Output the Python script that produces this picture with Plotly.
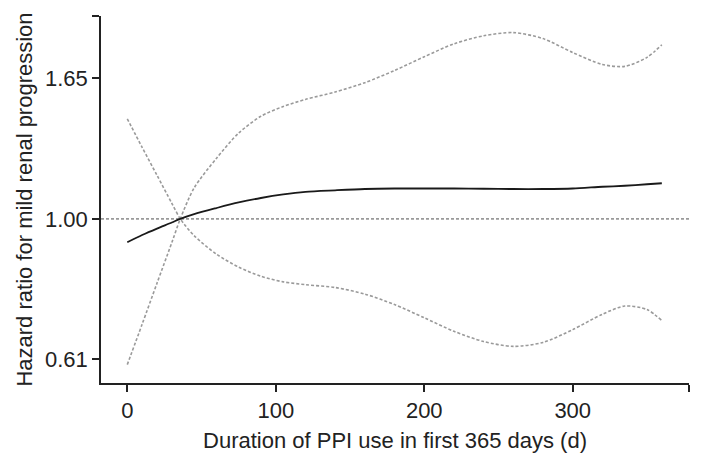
import math
import plotly.graph_objects as go

# Duration of PPI use (days)
days = [0, 10, 20, 30, 35.7, 45, 60, 75, 90, 105, 120, 140, 160, 180, 200,
        220, 240, 260, 280, 300, 320, 335, 350, 360]

# Hazard ratio estimate (solid line)
hr_est = [0.920, 0.944, 0.966, 0.987, 1.000, 1.017, 1.039, 1.060, 1.077, 1.091,
          1.101, 1.107, 1.112, 1.114, 1.114, 1.114, 1.113, 1.112, 1.112, 1.114,
          1.121, 1.125, 1.131, 1.135]

# Confidence band line starting low (upper band after reference point)
ci_a = [0.595, 0.687, 0.795, 0.919, 1.000, 1.116, 1.240, 1.357, 1.441, 1.492,
        1.530, 1.571, 1.624, 1.696, 1.781, 1.865, 1.919, 1.941, 1.900, 1.808,
        1.733, 1.721, 1.777, 1.859]

# Confidence band line starting high (lower band after reference point)
ci_b = [1.428, 1.290, 1.168, 1.057, 1.000, 0.942, 0.882, 0.842, 0.815, 0.799,
        0.791, 0.783, 0.765, 0.737, 0.703, 0.670, 0.646, 0.635, 0.644, 0.674,
        0.712, 0.733, 0.724, 0.696]

x_ticks = [0, 100, 200, 300]
x_tick_labels = ["0", "100", "200", "300"]
y_ticks = [math.exp(-0.5), 1.0, math.exp(0.5)]
y_tick_labels = ["0.61", "1.00", "1.65"]

X_RANGE = [-17.7, 378.3]
Y_RANGE_LOG = [-0.2539, 0.3137]

FONT = "Arial, Liberation Sans, Helvetica, sans-serif"
AXIS_COLOR = "#222222"
BAND_COLOR = "#9a9a9a"

fig = go.Figure()

for band in (ci_a, ci_b):
    fig.add_trace(go.Scatter(
        x=days, y=band, mode="lines",
        line=dict(color=BAND_COLOR, width=1.6, dash="3px,2px", shape="spline", smoothing=0.8),
        hoverinfo="skip", showlegend=False))

fig.add_trace(go.Scatter(
    x=days, y=hr_est, mode="lines",
    line=dict(color="#1a1a1a", width=1.8, shape="spline", smoothing=0.8),
    showlegend=False))

# Reference line at HR = 1
fig.add_shape(type="line", xref="paper", x0=0, x1=1, yref="y", y0=1, y1=1,
              line=dict(color=BAND_COLOR, width=1.6, dash="3px,2px"), layer="below")

x_end = X_RANGE[1] - 0.05
y_end = 10 ** (Y_RANGE_LOG[1] - 0.0002)

fig.update_layout(
    width=702, height=466,
    margin=dict(l=101, r=13, t=16, b=83, autoexpand=False),
    paper_bgcolor="white", plot_bgcolor="white",
    font=dict(family=FONT, size=22, color="#222222"),
    xaxis=dict(
        range=X_RANGE, automargin=False,
        tickvals=x_ticks + [x_end], ticktext=x_tick_labels + [""],
        ticks="outside", ticklen=7, tickwidth=1.5, tickcolor=AXIS_COLOR,
        showline=True, linecolor=AXIS_COLOR, linewidth=1.5,
        showgrid=False, zeroline=False,
        tickfont=dict(size=22, family=FONT, color="#222222"),
        title=dict(text="Duration of PPI use in first 365 days (d)",
                   font=dict(size=22, family=FONT, color="#222222"), standoff=10),
    ),
    yaxis=dict(
        type="log", range=Y_RANGE_LOG, automargin=False,
        tickvals=y_ticks + [y_end], ticktext=y_tick_labels + [""],
        ticks="outside", ticklen=7, tickwidth=1.5, tickcolor=AXIS_COLOR,
        showline=True, linecolor=AXIS_COLOR, linewidth=1.5,
        showgrid=False, zeroline=False,
        tickfont=dict(size=22, family=FONT, color="#222222"),
        title=dict(text="Hazard ratio for mild renal progression",
                   font=dict(size=22, family=FONT, color="#222222"), standoff=6),
    ),
)

fig.write_html("out.html", config={"displayModeBar": False},
               post_script="document.body.style.margin='0';")
